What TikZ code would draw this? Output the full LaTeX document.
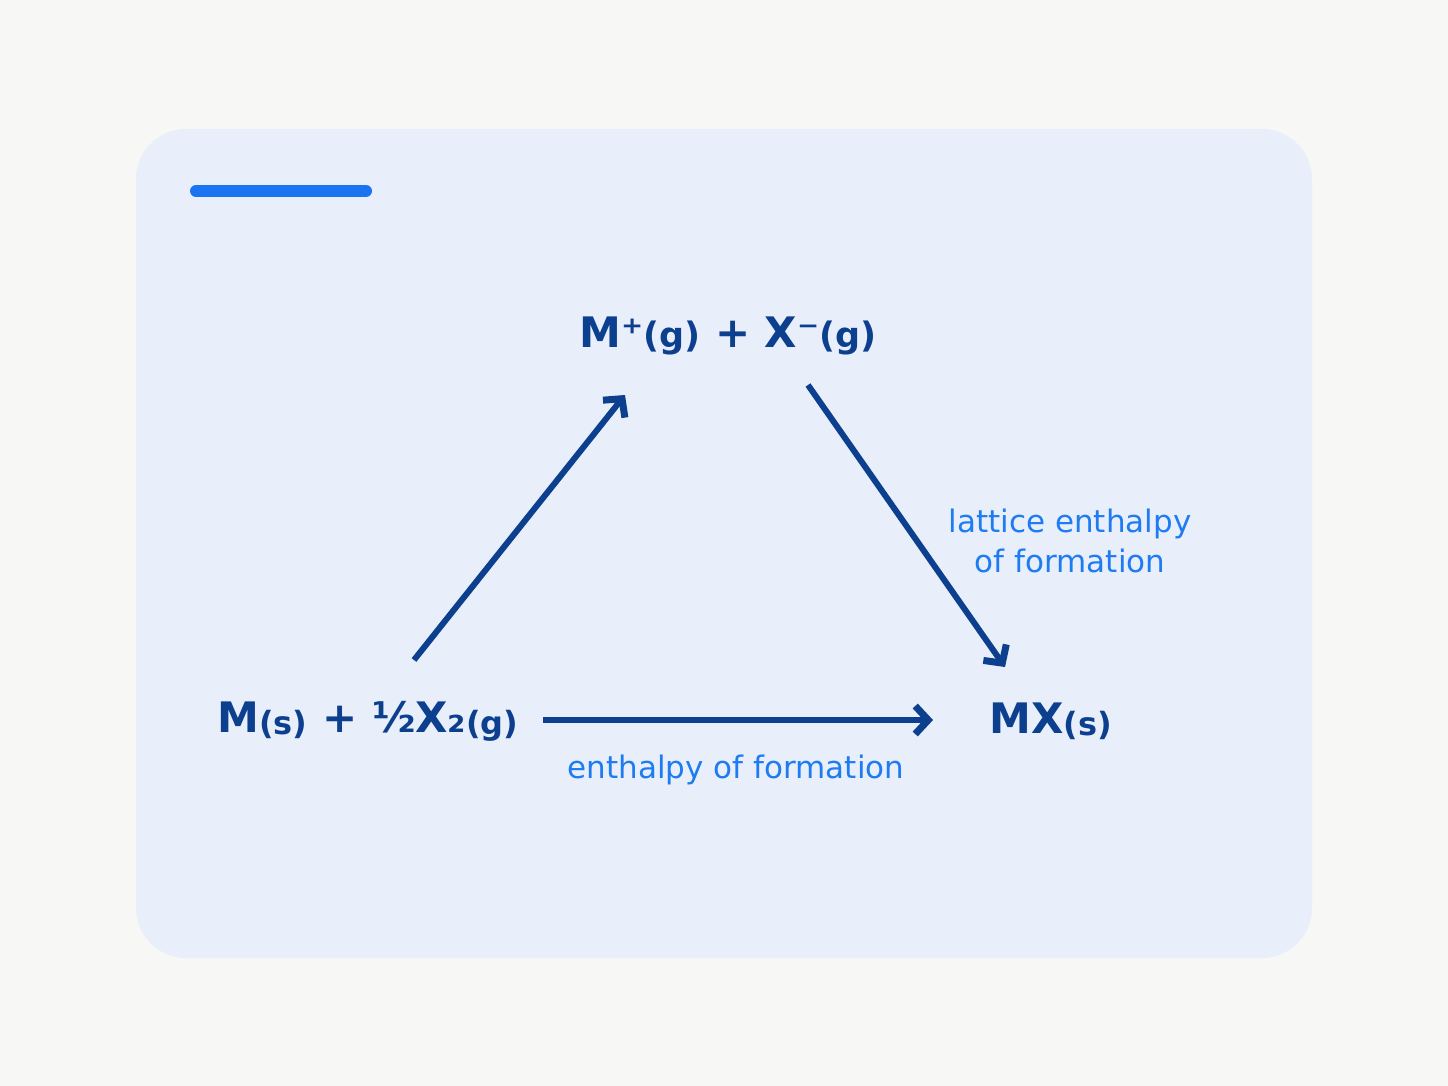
\documentclass[tikz,border=0pt]{standalone}
\usepackage{fontspec}
\setmainfont{DejaVu Sans}
\usetikzlibrary{arrows.meta}
\definecolor{bgc}{HTML}{F7F7F5}
\definecolor{panelc}{HTML}{E8EFFA}
\definecolor{accentc}{HTML}{1A73F0}
\definecolor{darkc}{HTML}{0D3F8F}
\definecolor{lightc}{HTML}{1E7BF2}
\newcommand{\chemsmall}[3]{{\fontsize{#1}{#1}\selectfont\raisebox{#2}{#3}}}
\tikzset{
  species/.style={inner sep=0pt, anchor=base, text=darkc, font=\fontsize{42}{42}\selectfont\bfseries},
  steplabel/.style={inner sep=0pt, anchor=base, text=lightc, font=\fontsize{31}{40}\selectfont, align=center},
  cycarrow/.style={draw=darkc, line width=6pt, -{Straight Barb[length=13pt,width=28pt,line width=7pt]}},
}
\begin{document}
\begin{tikzpicture}[x=1pt,y=-1pt]
\useasboundingbox (0,0) rectangle (1448,1086);
\fill[bgc] (0,0) rectangle (1448,1086);
\fill[panelc, rounded corners=50pt] (136,129) rectangle (1312,958);
\draw[accentc, line width=12pt, line cap=round] (196,191) -- (366,191);

\node[species] (top) at (728,347) {M⁺\chemsmall{35}{0pt}{(g)} + X⁻\chemsmall{35}{0pt}{(g)}};
\node[species] (left) at (368,732) {M\chemsmall{32}{-2pt}{(s)} + ½X₂\chemsmall{32}{-2pt}{(g)}};
\node[species] (right) at (1051,733) {MX\chemsmall{32}{-2pt}{(s)}};

\coordinate (upS) at (414,660);
\coordinate (upE) at (625,395);
\coordinate (dnS) at (808,385);
\coordinate (dnE) at (1005,667);
\coordinate (hzS) at (543,720);
\coordinate (hzE) at (933,720);

\draw[cycarrow] (upS) -- (upE);
\draw[cycarrow] (dnS) -- (dnE);
\draw[cycarrow] (hzS) -- (hzE);

\node[steplabel] (latt) at (1070,572) {lattice enthalpy\\of formation};
\node[steplabel] (form) at (736,778) {enthalpy of formation};
\end{tikzpicture}
\end{document}
